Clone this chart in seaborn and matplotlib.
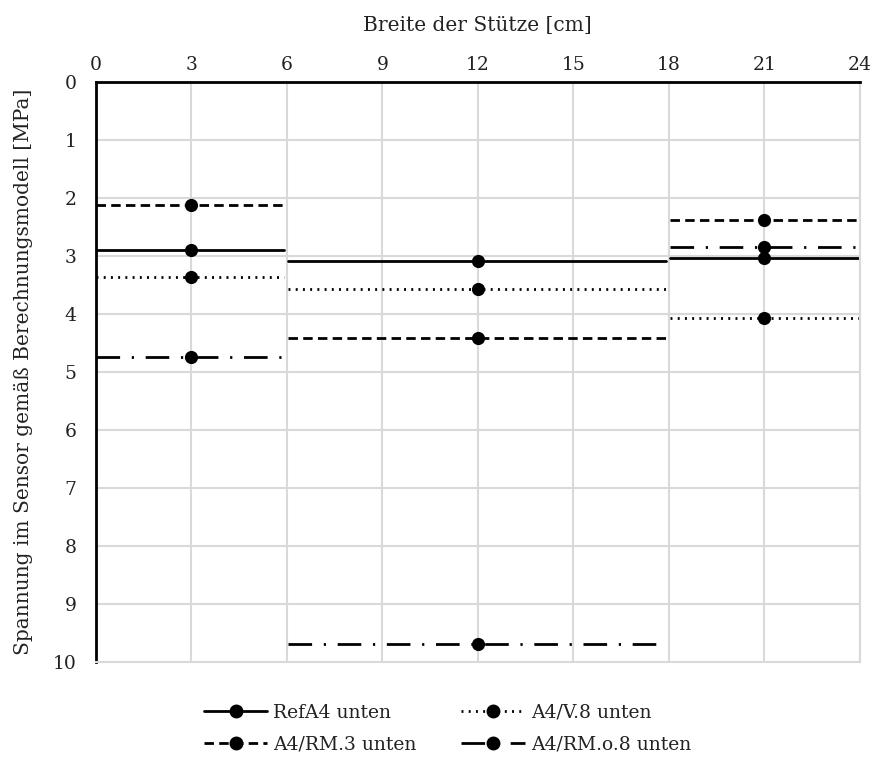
import numpy as np
import pandas as pd
import seaborn as sns
import matplotlib.pyplot as plt
from matplotlib.lines import Line2D

sns.set_theme(style="white")
plt.rcParams['font.family'] = ['DejaVu Serif', 'Liberation Serif']

# Column segments along the width of the support [cm]: start, centre (sensor), end
seg_start = [0.0, 6.05, 18.05]
seg_mid = [3.0, 12.0, 21.0]
seg_end = [5.9, 17.9, 24.0]

series = ["RefA4 unten", "A4/V.8 unten", "A4/RM.3 unten", "A4/RM.o.8 unten"]
# Stress per segment [MPa]
ref_a4 = [2.9, 3.08, 3.03]
v8 = [3.37, 3.57, 4.06]
rm3 = [2.12, 4.42, 2.37]
rm08 = [4.74, 9.69, 2.85]
values = [ref_a4, v8, rm3, rm08]

x_ticks = [0, 3, 6, 9, 12, 15, 18, 21, 24]
y_ticks = [0, 1, 2, 3, 4, 5, 6, 7, 8, 9, 10]

rows = []
for name, vals in zip(series, values):
    for k, v in enumerate(vals):
        for x in (seg_start[k], seg_mid[k], seg_end[k]):
            rows.append({"x": x, "y": v, "series": name, "seg": k})
df = pd.DataFrame(rows)
mids = df[df["x"].isin(seg_mid)]

dash_map = {
    "RefA4 unten": "",
    "A4/V.8 unten": (0.7, 1.9),
    "A4/RM.3 unten": (3.4, 1.9),
    "A4/RM.o.8 unten": (8.5, 4.2, 0.8, 4.2),
}

fig = plt.figure(figsize=(8.72, 7.6), dpi=100)
ax = fig.add_axes([0.110, 0.129, 0.876, 0.763])

sns.lineplot(data=df, x="x", y="y", style="series", units="seg", estimator=None,
             dashes=dash_map, color="black", linewidth=2.0, sort=False,
             legend=False, ax=ax)
sns.scatterplot(data=mids, x="x", y="y", color="black", s=90, edgecolor="black",
                linewidth=0, legend=False, ax=ax, zorder=5)

ax.set_xlim(0, 24)
ax.set_ylim(10, 0)
ax.set_xticks(x_ticks)
ax.set_yticks(y_ticks)
ax.xaxis.tick_top()
ax.xaxis.set_label_position("top")
ax.tick_params(axis="both", length=0, labelsize=13.5, colors="#222222")
ax.tick_params(axis="x", pad=6)
ax.tick_params(axis="y", pad=14)
ax.grid(True, color="#d9d9d9", linewidth=1.5)
ax.set_axisbelow(True)
for side in ("top", "left"):
    ax.spines[side].set_color("black")
    ax.spines[side].set_linewidth(2)
for side in ("bottom", "right"):
    ax.spines[side].set_color("#d9d9d9")
    ax.spines[side].set_linewidth(1.5)

ax.set_xlabel("Breite der Stütze [cm]", fontsize=14.5, color="#222222", labelpad=18)
ax.set_ylabel("Spannung im Sensor gemäß Berechnungsmodell [MPa]", fontsize=14.5,
              color="#222222", labelpad=14)

handles = {}
for name in series:
    d = dash_map[name]
    h = Line2D([0, 1, 2], [0, 0, 0], color="black", linewidth=2.0,
               marker="o", markersize=9, markevery=[1])
    if d:
        h.set_dashes(d)
    handles[name] = h

# column-wise fill: row 1 = RefA4, V.8; row 2 = RM.3, RM.o.8
order = ["RefA4 unten", "A4/RM.3 unten", "A4/V.8 unten", "A4/RM.o.8 unten"]
fig.legend([handles[n] for n in order], order, loc="center",
           bbox_to_anchor=(0.513, 0.041), ncol=2, frameon=False, fontsize=13.5,
           handlelength=3.4, columnspacing=2.4, labelspacing=0.75,
           handletextpad=0.3, labelcolor="#222222")

fig.savefig("out.png", dpi=100)
